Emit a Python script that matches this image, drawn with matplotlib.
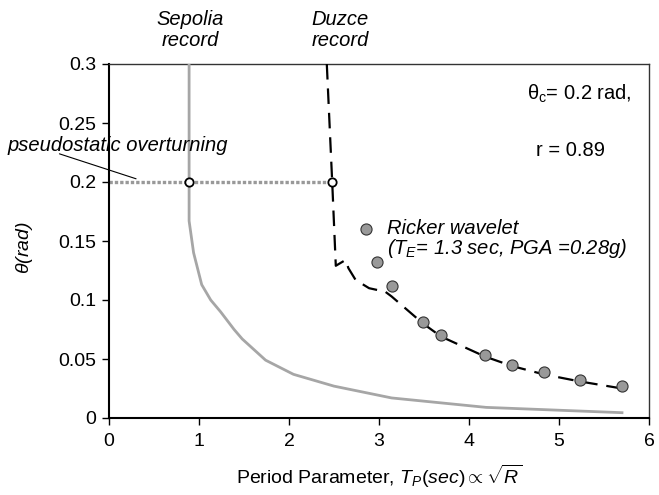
import matplotlib
matplotlib.use("Agg")
import matplotlib.pyplot as plt

plt.rcParams['font.family'] = ['Liberation Sans', 'DejaVu Sans']
plt.rcParams['mathtext.fontset'] = 'custom'
plt.rcParams['mathtext.rm'] = 'Liberation Sans'
plt.rcParams['mathtext.it'] = 'Liberation Sans:italic'

# Sepolia record (gray solid)
sep_x = [0.89, 0.89, 0.94, 1.03, 1.13, 1.24, 1.39, 1.48, 1.74, 2.05, 2.5, 3.14, 4.19, 5.7]
sep_y = [0.30, 0.167, 0.14, 0.113, 0.100, 0.090, 0.075, 0.067, 0.049, 0.037, 0.027, 0.017, 0.009, 0.0045]

# Duzce record (black dashed)
duz_x = [2.42, 2.48, 2.52, 2.63, 2.66, 2.74, 2.89, 3.07, 3.14, 3.49, 3.69, 4.18, 4.48, 4.83, 5.23, 5.7]
duz_y = [0.30, 0.20, 0.129, 0.134, 0.127, 0.117, 0.110, 0.107, 0.103, 0.080, 0.069, 0.052, 0.044, 0.037, 0.031, 0.025]

# Ricker wavelet points
rick_x = [2.85, 2.98, 3.14, 3.49, 3.69, 4.18, 4.48, 4.83, 5.23, 5.7]
rick_y = [0.160, 0.132, 0.112, 0.081, 0.070, 0.053, 0.045, 0.039, 0.032, 0.027]

# pseudostatic overturning points
ov_x = [0.89, 2.48]
ov_y = [0.2, 0.2]

xticks = [0, 1, 2, 3, 4, 5, 6]
yticks = [0, 0.05, 0.1, 0.15, 0.2, 0.25, 0.3]
ytick_labels = ["0", "0.05", "0.1", "0.15", "0.2", "0.25", "0.3"]

fig = plt.figure(figsize=(6.59, 4.95), dpi=100)
ax = fig.add_axes([109/659, 1-418/495, 540/659, 354/495])

fs = 14
fa = 14.5

ax.plot([0, ov_x[1]], [0.2, 0.2], color='#999999', lw=2.4, linestyle=(0, (1, 0.6)), zorder=2)
ax.plot(sep_x, sep_y, color='#a6a6a6', lw=2, zorder=3)
ax.plot(duz_x, duz_y, color='black', lw=1.6, dashes=(7, 4), zorder=3)
ax.plot(rick_x, rick_y, linestyle='none', marker='o', ms=8, mfc='#999999', mec='#333333', mew=0.8, zorder=4)
ax.plot(ov_x, ov_y, linestyle='none', marker='o', ms=6, mfc='white', mec='black', mew=1.3, zorder=5)

ax.set_xlim(0, 6)
ax.set_ylim(0, 0.3)
ax.set_xticks(xticks)
ax.set_yticks(yticks)
ax.set_yticklabels(ytick_labels)
ax.tick_params(direction='out', length=5, width=1, labelsize=fs, top=False, right=False)
ax.tick_params(axis='x', pad=6)
ax.tick_params(axis='y', pad=4)
for s in ['left', 'bottom']:
    ax.spines[s].set_linewidth(1.5)
for s in ['top', 'right']:
    ax.spines[s].set_linewidth(1.0)
    ax.spines[s].set_color('#333333')

ax.set_ylabel(r'$\theta$(rad)', fontsize=fs, style='italic')
ax.yaxis.set_label_coords(-125/540 + 35/540*0 + (35 - 109)/540 + 125/540, 0.48)
ax.set_xlabel(r'Period Parameter, $T_P$$(sec)\propto\sqrt{R}$', fontsize=fs)
ax.xaxis.set_label_coords(0.5, (418 - 463) / 354)

ax.text(0.9, 0.3288, 'Sepolia\nrecord', ha='center', va='center', fontsize=fa, style='italic', clip_on=False, linespacing=1.1)
ax.text(2.57, 0.3288, 'Duzce\nrecord', ha='center', va='center', fontsize=fa, style='italic', clip_on=False, linespacing=1.1)

ax.text(4.64, 0.275, r'$\mathrm{\theta_c}$= 0.2 rad,', ha='left', va='center', fontsize=fa)
ax.text(4.74, 0.227, 'r = 0.89', ha='left', va='center', fontsize=fa)
ax.text(3.09, 0.161, 'Ricker wavelet', ha='left', va='center', fontsize=fa, style='italic')
ax.text(3.09, 0.1435, r'($T_E$= 1.3 sec, PGA =0.28g)', ha='left', va='center', fontsize=fa, style='italic')

ax.text(-1.13, 0.231, 'pseudostatic overturning', ha='left', va='center', fontsize=fa, style='italic', clip_on=False)
ax.annotate('', xy=(0.33, 0.202), xytext=(-0.58, 0.2246),
            arrowprops=dict(arrowstyle='-', color='black', lw=0.8), annotation_clip=False)

fig.savefig('out.png', dpi=100)
